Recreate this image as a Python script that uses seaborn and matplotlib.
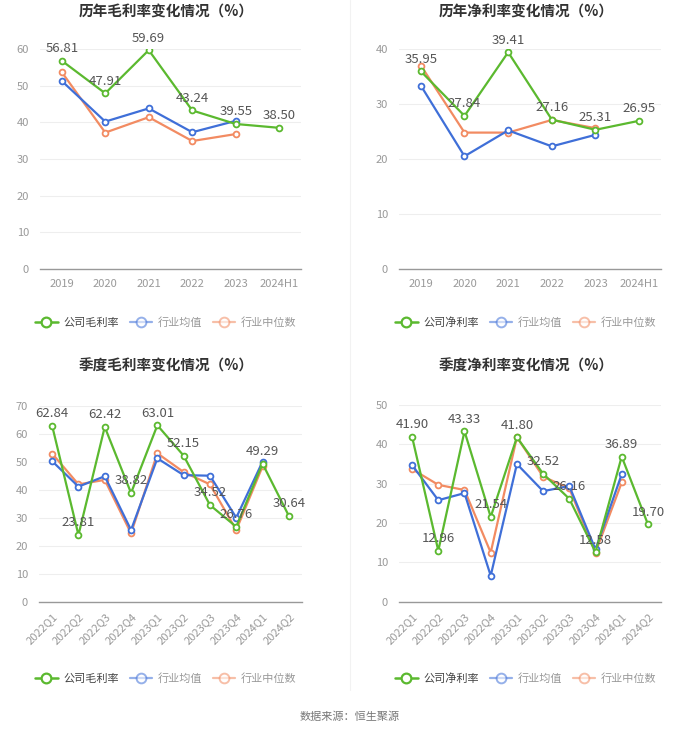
import numpy as np
import pandas as pd
import matplotlib
matplotlib.use("Agg")
import matplotlib.pyplot as plt
from matplotlib.lines import Line2D
import seaborn as sns

sns.set_theme(style="white")
plt.rcParams['font.family'] = ['Noto Sans CJK SC', 'DejaVu Sans']

# ---------------- data ----------------
years = ["2019", "2020", "2021", "2022", "2023", "2024H1"]
quarters = ["2022Q1", "2022Q2", "2022Q3", "2022Q4", "2023Q1", "2023Q2",
            "2023Q3", "2023Q4", "2024Q1", "2024Q2"]

annual_gross_company = [56.81, 47.91, 59.69, 43.24, 39.55, 38.50]
annual_gross_mean = [51.3, 40.2, 43.8, 37.3, 40.4]
annual_gross_median = [53.7, 37.2, 41.4, 34.9, 36.8]

annual_net_company = [35.95, 27.84, 39.41, 27.16, 25.31, 26.95]
annual_net_mean = [33.35, 20.5, 25.2, 22.3, 24.4]
annual_net_median = [37.0, 24.8, 24.8, 27.1, 25.6]

q_gross_company = [62.84, 23.81, 62.42, 38.82, 63.01, 52.15, 34.52, 26.76, 49.29, 30.64]
q_gross_mean = [50.2, 41.1, 44.8, 25.6, 51.2, 45.2, 45.0, 30.0, 50.0]
q_gross_median = [52.9, 41.9, 43.5, 24.4, 53.0, 46.3, 41.9, 25.6, 48.3]

q_net_company = [41.90, 12.96, 43.33, 21.54, 41.80, 32.52, 26.16, 12.58, 36.89, 19.70]
q_net_mean = [34.7, 25.8, 27.6, 6.6, 35.0, 28.1, 29.4, 13.3, 32.4]
q_net_median = [33.7, 29.7, 28.4, 12.5, 41.8, 31.8, 28.8, 12.5, 30.3]

titles = ["历年毛利率变化情况（%）", "历年净利率变化情况（%）",
          "季度毛利率变化情况（%）", "季度净利率变化情况（%）"]
company_gross_label = "公司毛利率"
company_net_label = "公司净利率"
mean_label = "行业均值"
median_label = "行业中位数"
source_text = "数据来源：恒生聚源"

GREEN = "#5bb92f"
BLUE = "#3f6fd8"
ORANGE = "#f28b62"

W, H = 700, 734
fig = plt.figure(figsize=(W / 100, H / 100), dpi=100)


def px_axes(x0, y_top, x1, y_bot):
    return fig.add_axes([x0 / W, 1 - y_bot / H, (x1 - x0) / W, (y_bot - y_top) / H])


panels = [
    dict(box=(40, 49, 301, 269), cats=years, comp=annual_gross_company,
         mean=annual_gross_mean, med=annual_gross_median, ymax=60,
         yticks=[0, 10, 20, 30, 40, 50, 60], clabel=company_gross_label,
         rot=0, title_y=12, legend_y=323, cx=166),
    dict(box=(399, 49, 661, 269), cats=years, comp=annual_net_company,
         mean=annual_net_mean, med=annual_net_median, ymax=40,
         yticks=[0, 10, 20, 30, 40], clabel=company_net_label,
         rot=0, title_y=12, legend_y=323, cx=526),
    dict(box=(39, 405.7, 302, 601.7), cats=quarters, comp=q_gross_company,
         mean=q_gross_mean, med=q_gross_median, ymax=70,
         yticks=[0, 10, 20, 30, 40, 50, 60, 70], clabel=company_gross_label,
         rot=45, title_y=366, legend_y=679, cx=166),
    dict(box=(399, 405, 661, 601.7), cats=quarters, comp=q_net_company,
         mean=q_net_mean, med=q_net_median, ymax=50,
         yticks=[0, 10, 20, 30, 40, 50], clabel=company_net_label,
         rot=45, title_y=366, legend_y=679, cx=526),
]

for i, p in enumerate(panels):
    ax = px_axes(*p["box"])
    n = len(p["cats"])
    xs = np.arange(n)
    series = [(p["med"], ORANGE, median_label),
              (p["mean"], BLUE, mean_label),
              (p["comp"], GREEN, p["clabel"])]
    for vals, col, lab in series:
        df = pd.DataFrame({"x": xs[:len(vals)], "y": vals})
        sns.lineplot(data=df, x="x", y="y", ax=ax, color=col, lw=1.6,
                     marker="o", markersize=4.2, markerfacecolor="white",
                     markeredgecolor=col, markeredgewidth=1.3, sort=False,
                     legend=False, zorder=3 if col == GREEN else 2)
    for x, v in zip(xs, p["comp"]):
        ax.annotate(f"{v:.2f}", (x, v), textcoords="offset points",
                    xytext=(0, 4), ha="center", va="bottom",
                    fontsize=9.5, color="#555555", zorder=5)

    ax.set_xlim(-0.5, n - 0.5)
    ax.set_ylim(0, p["ymax"])
    ax.set_yticks(p["yticks"])
    ax.set_xticks(xs)
    if p["rot"]:
        ax.set_xticklabels(p["cats"], rotation=45, ha="right",
                           rotation_mode="anchor")
    else:
        ax.set_xticklabels(p["cats"])
    ax.tick_params(axis="x", colors="#999999", labelsize=8, length=4,
                   width=0.8, direction="out", pad=3, labelcolor="#999999")
    ax.tick_params(axis="y", length=0, labelsize=8, labelcolor="#999999", pad=8)
    ax.set_xlabel("")
    ax.set_ylabel("")
    ax.grid(axis="y", color="#eeeeee", lw=0.8)
    ax.grid(axis="x", visible=False)
    for s in ["top", "right", "left"]:
        ax.spines[s].set_visible(False)
    ax.spines["bottom"].set_color("#999999")
    ax.spines["bottom"].set_linewidth(1.0)
    ax.set_axisbelow(True)

    cx = p["cx"]
    fig.text(cx / W, 1 - p["title_y"] / H, titles[i], ha="center", va="center",
             fontsize=10.5, fontweight="bold", color="#333333")

    handles = [
        Line2D([], [], color=GREEN, lw=1.8, marker="o", markersize=7,
               markerfacecolor="white", markeredgewidth=1.6),
        Line2D([], [], color=BLUE, lw=1.6, marker="o", markersize=7,
               markerfacecolor="white", markeredgewidth=1.4, alpha=0.55),
        Line2D([], [], color=ORANGE, lw=1.6, marker="o", markersize=7,
               markerfacecolor="white", markeredgewidth=1.4, alpha=0.55),
    ]
    leg = fig.legend(handles, [p["clabel"], mean_label, median_label],
                     loc="center", bbox_to_anchor=(cx / W, 1 - p["legend_y"] / H),
                     ncol=3, frameon=False, fontsize=8, handlelength=2.0,
                     handletextpad=0.5, columnspacing=1.0)
    texts = leg.get_texts()
    texts[0].set_color("#444444")
    texts[1].set_color("#999999")
    texts[2].set_color("#999999")

# faint panel separator
fig.add_artist(Line2D([350 / W, 350 / W], [1 - 0 / H, 1 - 690 / H],
                      color="#f2f2f2", lw=0.8))

fig.text(0.5, 1 - 717 / H, source_text, ha="center", va="center",
         fontsize=8, color="#777777")

fig.savefig("out.png", dpi=100, facecolor="white")
